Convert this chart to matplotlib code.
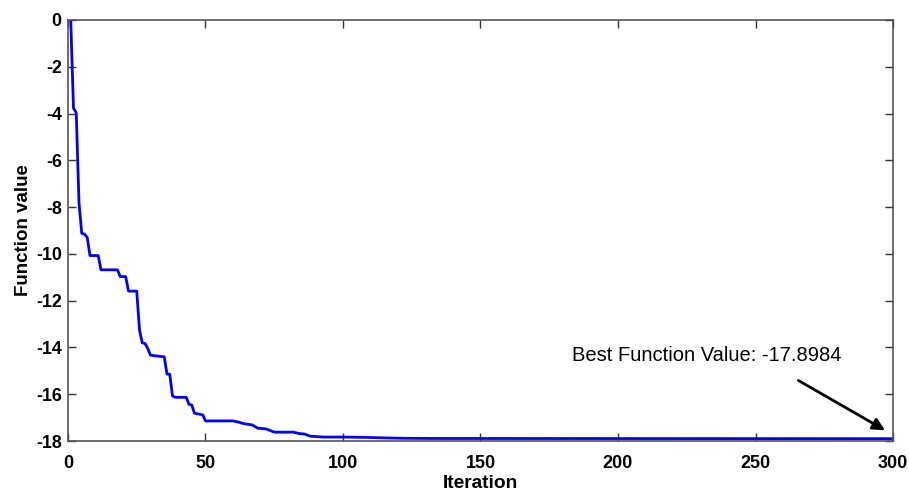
import matplotlib.pyplot as plt

# convergence curve vertices (iteration, best function value)
iterations = [1, 2, 3, 4, 5, 6, 7, 8, 11, 12, 18, 19, 21, 22, 25, 26, 27, 28, 29, 30,
              35, 36, 37, 38, 39, 43, 44, 45, 46, 49, 50, 60, 62, 64, 67, 69, 72, 75,
              82, 84, 86, 88, 93, 100, 107, 113, 121, 132, 300]
values = [0, -3.77, -3.97, -7.8, -9.12, -9.15, -9.3, -10.07, -10.07, -10.68, -10.68,
          -10.97, -10.97, -11.59, -11.59, -13.26, -13.8, -13.83, -14.04, -14.33,
          -14.4, -15.14, -15.14, -16.07, -16.13, -16.13, -16.43, -16.46, -16.81,
          -16.88, -17.14, -17.14, -17.19, -17.26, -17.31, -17.45, -17.48, -17.62,
          -17.62, -17.68, -17.7, -17.79, -17.83, -17.83, -17.84, -17.86, -17.88,
          -17.89, -17.8984]
best_value = -17.8984

x_ticks = [0, 50, 100, 150, 200, 250, 300]
y_ticks = [0, -2, -4, -6, -8, -10, -12, -14, -16, -18]

plt.rcParams['font.family'] = ['Liberation Sans', 'DejaVu Sans']

fig = plt.figure(figsize=(9.09, 4.95), dpi=100)
ax = fig.add_axes([0.0748, 0.109, 0.9076, 0.8506])

ax.plot(iterations, values, color='#0000ff', linewidth=2)

ax.set_xlim(0, 300)
ax.set_ylim(-18, 0)
ax.set_xticks(x_ticks)
ax.set_yticks(y_ticks)
ax.set_xticklabels([str(t) for t in x_ticks], fontweight='bold', fontsize=13)
ax.set_yticklabels([str(t) for t in y_ticks], fontweight='bold', fontsize=12.8)
ax.tick_params(direction='in', length=6, width=1, top=True, right=True, colors='#333333',
               labelcolor='black')
ax.tick_params(axis='x', pad=10)
ax.tick_params(axis='y', pad=4.5)
for s in ax.spines.values():
    s.set_color('#555555')
    s.set_linewidth(1.2)

ax.set_xlabel('Iteration', fontweight='bold', fontsize=13.8, labelpad=2)
ax.set_ylabel('Function value', fontweight='bold', fontsize=13.5, labelpad=3)

ax.text(183.2, -14.33, 'Best Function Value: %.4f' % best_value, fontsize=14.5,
        va='center', ha='left')
ax.annotate('', xy=(298, best_value + 0.3), xytext=(264.7, -15.35),
            arrowprops=dict(arrowstyle='-|>', color='black', lw=2, mutation_scale=18))

fig.savefig('out.png', dpi=100)
